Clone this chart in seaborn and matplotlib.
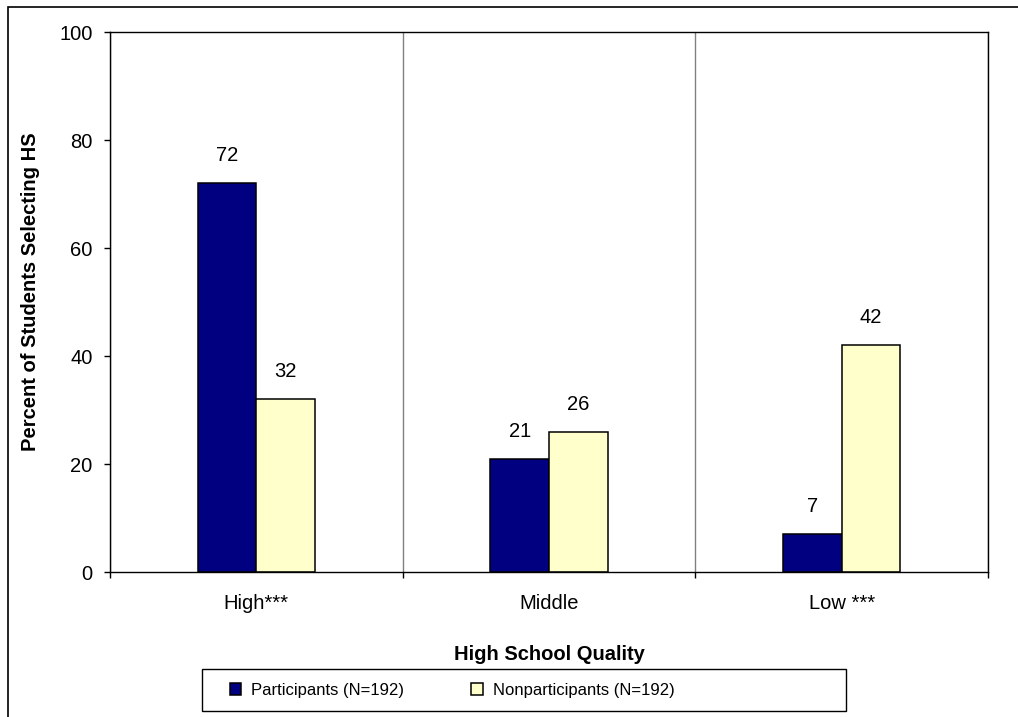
import matplotlib
matplotlib.use("Agg")
import matplotlib.pyplot as plt
import seaborn as sns
import pandas as pd
from matplotlib.patches import Rectangle

# chart data
quality = ["High***", "Middle", "Low ***"]
groups = ["Participants (N=192)", "Nonparticipants (N=192)"]
participants = [72, 21, 7]
nonparticipants = [32, 26, 42]
yticks = [0, 20, 40, 60, 80, 100]

df = pd.DataFrame({
    "quality": quality * 2,
    "group": [groups[0]] * 3 + [groups[1]] * 3,
    "pct": participants + nonparticipants,
})

sns.set_style("white")
plt.rcParams["font.family"] = ["Liberation Sans", "DejaVu Sans"]
plt.rcParams["text.color"] = "black"
plt.rcParams["axes.labelcolor"] = "black"
plt.rcParams["xtick.color"] = "black"
plt.rcParams["ytick.color"] = "black"

fig = plt.figure(figsize=(10.18, 7.17), dpi=100)
ax = fig.add_axes([110 / 1018, 1 - 572 / 717, 878 / 1018, 540 / 717])

sns.barplot(data=df, x="quality", y="pct", hue="group", order=quality,
            hue_order=groups, palette=["#000080", "#FFFFCC"], width=0.4,
            edgecolor="black", linewidth=1.1, saturation=1, ax=ax)

for c in ax.containers:
    ax.bar_label(c, padding=13, fontsize=14.5, color="black")

ax.set_xlim(-0.5, 2.5)
ax.set_ylim(0, 100)
ax.set_yticks(yticks)
ax.tick_params(axis="y", which="major", direction="out", length=4.5, width=1,
               pad=8, labelsize=14.5, left=True, color="black",
               labelcolor="black")
ax.tick_params(axis="x", which="major", length=0, pad=16, labelsize=14.5,
               labelcolor="black")
ax.set_xticks([-0.5, 0.5, 1.5, 2.5], minor=True)
ax.tick_params(axis="x", which="minor", direction="out", length=4, width=1,
               bottom=True, color="black")
ax.grid(False)
ax.grid(True, which="minor", axis="x", color="#808080", linewidth=1)
for s in ax.spines.values():
    s.set_visible(True)
    s.set_color("black")
    s.set_linewidth(1)

ax.set_xlabel("High School Quality", fontsize=14.5, fontweight="bold",
              color="black")
ax.xaxis.set_label_coords(0.5, -0.135)
ax.set_ylabel("Percent of Students Selecting HS", fontsize=14.5,
              fontweight="bold", va="center", color="black")
ax.yaxis.set_label_coords(-0.09, 0.52)

handles, labels = ax.get_legend_handles_labels()
ax.legend(handles, labels, ncol=2, frameon=False, fontsize=12,
          handlelength=0.7, handleheight=0.7, handletextpad=0.6,
          columnspacing=4.0, loc="center", labelcolor="black",
          bbox_to_anchor=(452 / 1018, 1 - 690 / 717),
          bbox_transform=fig.transFigure)

# legend box and chart area border
fig.patches.append(Rectangle((202 / 1018, 1 - 711 / 717), 644 / 1018, 42 / 717,
                             transform=fig.transFigure, fill=False,
                             edgecolor="black", linewidth=1))
fig.patches.append(Rectangle((7.5 / 1018, -0.2), 1.5, 1.2 - 7 / 717,
                             transform=fig.transFigure, fill=False,
                             edgecolor="black", linewidth=1.2))

fig.savefig("out.png", dpi=100)
